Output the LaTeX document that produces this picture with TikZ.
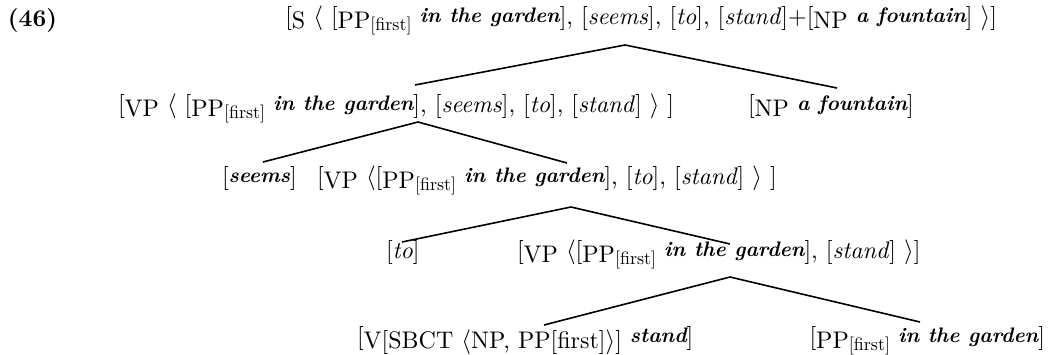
\documentclass[tikz,border=0pt]{standalone}
\usepackage{fontspec}
\setmainfont{lmroman10}[Extension=.otf, UprightFont=*-regular, BoldFont=*-bold, ItalicFont=*-italic, BoldItalicFont=*-bolditalic]
\newcommand{\lab}[1]{\raisebox{-4pt}{#1}}
\newcommand{\fe}[1]{\raisebox{-6pt}{\fontsize{18}{20}\selectfont #1}}
\newcommand{\wrd}[1]{\raisebox{2pt}{\fontsize{21}{24}\selectfont\bfseries\itshape #1}}
\newcommand{\la}{\ensuremath{\langle}}
\newcommand{\ra}{\ensuremath{\rangle}}
\begin{document}
\begin{tikzpicture}[x=1pt,y=-1pt,
  txt/.style={inner sep=0pt,outer sep=0pt,font=\fontsize{24}{30}\selectfont,anchor=base west},
  branch/.style={line width=1.6pt}]
\useasboundingbox (0,0) rectangle (1051,354);
\node[txt] (ex) at (8,26) {\bfseries (46)};
\node[txt,anchor=base east] (r1) at (997,24) {[\lab{S} \la{} [\lab{PP}\fe{[first]} \wrd{in the garden}], [\textit{seems}], [\textit{to}], [\textit{stand}]+[\lab{NP} \wrd{a fountain}] \ra]};
\node[txt] (r2a) at (118,112) {[\lab{VP} \la{} [\lab{PP}\fe{[first]} \wrd{in the garden}], [\textit{seems}], [\textit{to}], [\textit{stand}] \ra{} ]};
\node[txt] (r2b) at (748,112) {[\lab{NP} \wrd{a fountain}]};
\node[txt] (r3a) at (222,184) {[\wrd{seems}]};
\node[txt] (r3b) at (317,184) {[\lab{VP} \la[\lab{PP}\fe{[first]} \wrd{in the garden}], [\textit{to}], [\textit{stand}] \ra{} ]};
\node[txt] (r4a) at (386,258) {[\textit{to}]};
\node[txt] (r4b) at (517,258) {[\lab{VP} \la[\lab{PP}\fe{[first]} \wrd{in the garden}], [\textit{stand}] \ra]};
\node[txt] (r5a) at (357,344) {[\lab{V[SBCT \la NP, PP[first]\ra]} \wrd{stand}]};
\node[txt,anchor=base east] (r5b) at (1045,344) {[\lab{PP}\fe{[first]} \wrd{in the garden}]};
\coordinate (a1) at (625,45); \coordinate (l1) at (415,85); \coordinate (e1) at (837,88);
\coordinate (a2) at (418,122); \coordinate (l2) at (263,162); \coordinate (e2) at (567,163);
\coordinate (a3) at (571,207); \coordinate (l3) at (402,242); \coordinate (e3) at (730,244);
\coordinate (a4) at (730,277); \coordinate (l4) at (544,325); \coordinate (e4) at (920,322);
\draw[branch] (l1) -- (a1) -- (e1);
\draw[branch] (l2) -- (a2) -- (e2);
\draw[branch] (l3) -- (a3) -- (e3);
\draw[branch] (l4) -- (a4) -- (e4);
\end{tikzpicture}
\end{document}
